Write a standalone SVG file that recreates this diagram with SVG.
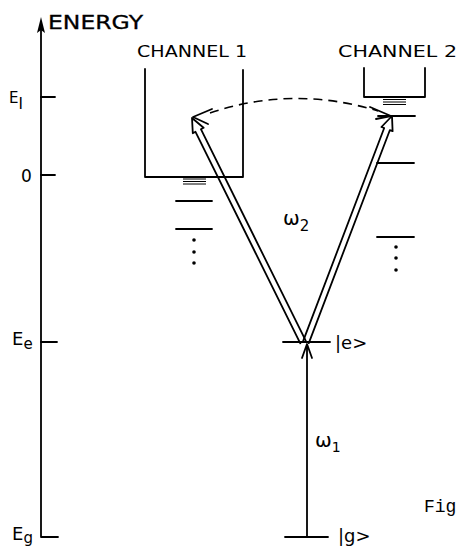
<svg xmlns="http://www.w3.org/2000/svg" width="458" height="548" viewBox="0 0 458 548">
<style>
.ln{stroke:#000;stroke-width:1.8;fill:none;stroke-linecap:round;stroke-linejoin:round}
.thin{stroke:#000;stroke-width:1;fill:none}
.dash{stroke:#000;stroke-width:1.6;fill:none;stroke-dasharray:9 6}
.t{font-family:"DejaVu Sans","Liberation Sans",sans-serif;fill:#000}
.m{font-family:"Liberation Mono","DejaVu Sans Mono",monospace;fill:#000}
</style>
<rect width="458" height="548" fill="#fff"/>
<g id="axis">
<path class="ln" d="M41,24 V537 H58"/>
<path d="M41,17 L37,33 L41,30 L45,33 Z" fill="#000"/>
<path class="ln" d="M41,97 H55 M41,175 H55 M41,342 H57"/>
<text class="t" x="48" y="29" font-size="19" textLength="95" lengthAdjust="spacingAndGlyphs" stroke="#000" stroke-width="0.3">ENERGY</text>
<text class="t" x="9" y="103" font-size="15">E<tspan font-size="15" dy="6">I</tspan></text>
<text class="t" x="21" y="182" font-size="17">0</text>
<text class="t" x="12" y="345" font-size="18">E<tspan font-size="15" dy="4">e</tspan></text>
<text class="t" x="12" y="540" font-size="18">E<tspan font-size="15" dy="3">g</tspan></text>
</g>
<g id="channel1">
<text class="t" x="137" y="57" font-size="16" textLength="110" lengthAdjust="spacingAndGlyphs">CHANNEL 1</text>
<path class="ln" d="M145,69 V177 H243 V70"/>
<path class="thin" d="M183,179 H206 M183,181.5 H206 M183,184 H206"/>
<path class="ln" d="M176,201 H212 M176,229 H212"/>
<circle cx="194" cy="240" r="1.8"/><circle cx="194" cy="252" r="1.8"/><circle cx="194" cy="263" r="1.8"/>
</g>
<g id="channel2">
<text class="t" x="338" y="57" font-size="16" textLength="119" lengthAdjust="spacingAndGlyphs">CHANNEL 2</text>
<path class="ln" d="M364,68 V97 H425 V68"/>
<path class="thin" d="M383,99.5 H406 M383,102 H406 M383,104.5 H406"/>
<path class="ln" d="M378,116 H415 M377,163 H414 M377,237 H414"/>
<circle cx="396" cy="247" r="1.8"/><circle cx="396" cy="258" r="1.8"/><circle cx="396" cy="270" r="1.8"/>
</g>
<g id="state-e">
<path class="ln" d="M283,342 H330"/>
<text class="t" x="335" y="349" font-size="18">|e&gt;</text>
</g>
<g id="state-g">
<path class="ln" d="M285,537 H328"/>
<text class="t" x="338" y="542" font-size="18">|g&gt;</text>
</g>
<g id="connectors">
<path class="ln" d="M307,537 V345 M302,358 L307,344 L312,358"/>
<text class="t" x="315" y="447" font-size="20">ω<tspan font-size="14" dy="5">1</tspan></text>
<path class="ln" d="M300.3,343.3 L195.5,131.8 L192.8,133.2 L192,118 L203.6,127.8 L200.9,129.2 L305.7,340.7"/>
<path class="ln" d="M303.2,340.9 L384.2,128 L381.4,127 L392,116 L392.6,131.2 L389.8,130.2 L308.8,343.1"/>
<text class="t" x="283" y="225" font-size="20">ω<tspan font-size="15" dy="6">2</tspan></text>
<path class="dash" d="M210,113 Q293,85 378,111"/>
<path class="ln" d="M212,109 L193,117 L208,124"/>
<path class="ln" d="M370,107 L391,116 L376,119"/>
</g>
<text class="m" x="424" y="512" font-size="18">Fig</text>
</svg>
